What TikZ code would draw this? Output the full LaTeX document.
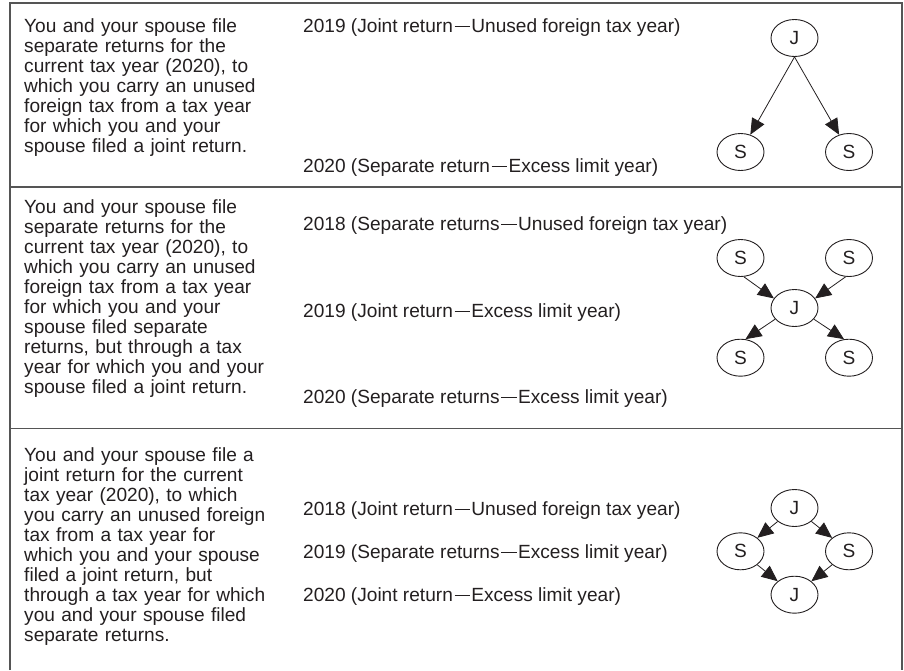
\documentclass[tikz,border=0pt]{standalone}
\usepackage{fontspec}
\setmainfont{Liberation Sans}
\usetikzlibrary{arrows.meta,shapes.geometric}
\definecolor{ink}{HTML}{231F20}
\definecolor{rulecol}{HTML}{555555}
\newcommand\emd{\kern1.6pt\rule[0.245em]{0.8em}{0.075em}\kern1.6pt}
\begin{document}
\begin{tikzpicture}[x=1pt,y=-1pt,
  every node/.style={text=ink,font=\fontsize{19.1}{20}\selectfont},
  desc/.style={anchor=base west,inner sep=0pt,align=left,text width=270pt},
  yr/.style={anchor=base west,inner sep=0pt},
  ret/.style={ellipse,draw=ink,line width=0.9pt,minimum width=47pt,minimum height=37pt,inner sep=0pt},
  arr/.style={draw=ink,line width=0.8pt,-{Triangle[length=16pt,width=14pt]}},
  frame/.style={draw=rulecol,line width=1.3pt}]
\useasboundingbox (0,0) rectangle (904,670);
% table frame
\coordinate (tl) at (10,3);
\coordinate (tr) at (902,3);
\coordinate (bl) at (10,670);
\coordinate (br) at (902,670);
\coordinate (d1l) at (10,187);
\coordinate (d1r) at (902,187);
\coordinate (d2l) at (10,428.5);
\coordinate (d2r) at (902,428.5);
\draw[frame] (bl) -- (tl) -- (tr) -- (br);
\draw[frame] (d1l) -- (d1r);
\draw[frame] (d2l) -- (d2r);

% row 1
\node[desc] (t1) at (24,32) {You and your spouse file\\separate returns for the\\current tax year (2020), to\\which you carry an unused\\foreign tax from a tax year\\for which you and your\\spouse filed a joint return.};
\node[yr] (y1a) at (303,32) {2019 (Joint return\emd Unused foreign tax year)};
\node[yr] (y1b) at (303,172) {2020 (Separate return\emd Excess limit year)};
\node[ret] (aJ) at (794.5,38) {J};
\node[ret] (aS1) at (740.5,152) {S};
\node[ret] (aS2) at (849,152) {S};
\draw[arr] (aJ.south) -- (aS1);
\draw[arr] (aJ.south) -- (aS2);

% row 2
\node[desc] (t2) at (24,213) {You and your spouse file\\separate returns for the\\current tax year (2020), to\\which you carry an unused\\foreign tax from a tax year\\for which you and your\\spouse filed separate\\returns, but through a tax\\year for which you and your\\spouse filed a joint return.};
\node[yr] (y2a) at (303,230) {2018 (Separate returns\emd Unused foreign tax year)};
\node[yr] (y2b) at (303,317) {2019 (Joint return\emd Excess limit year)};
\node[yr] (y2c) at (303,403) {2020 (Separate returns\emd Excess limit year)};
\node[ret] (bS1) at (740.5,258) {S};
\node[ret] (bS2) at (849,258) {S};
\node[ret] (bJ) at (794.5,308) {J};
\node[ret] (bS3) at (740.5,357.7) {S};
\node[ret] (bS4) at (849,357.7) {S};
\draw[arr] (bS1.-80) -- (bJ.155);
\draw[arr] (bS2.-100) -- (bJ.25);
\draw[arr] (bJ.210) -- (bS3.75);
\draw[arr] (bJ.-30) -- (bS4.105);

% row 3
\node[desc] (t3) at (24,461) {You and your spouse file a\\joint return for the current\\tax year (2020), to which\\you carry an unused foreign\\tax from a tax year for\\which you and your spouse\\filed a joint return, but\\through a tax year for which\\you and your spouse filed\\separate returns.};
\node[yr] (y3a) at (303,515) {2018 (Joint return\emd Unused foreign tax year)};
\node[yr] (y3b) at (303,558) {2019 (Separate returns\emd Excess limit year)};
\node[yr] (y3c) at (303,601) {2020 (Joint return\emd Excess limit year)};
\node[ret] (cJ1) at (794.5,508) {J};
\node[ret] (cS1) at (740.5,551.3) {S};
\node[ret] (cS2) at (849,551.3) {S};
\node[ret] (cJ2) at (794.5,594.7) {J};
\draw[arr] (cJ1) -- (cS1);
\draw[arr] (cJ1) -- (cS2);
\draw[arr] (cS1) -- (cJ2);
\draw[arr] (cS2) -- (cJ2);
\end{tikzpicture}
\end{document}
